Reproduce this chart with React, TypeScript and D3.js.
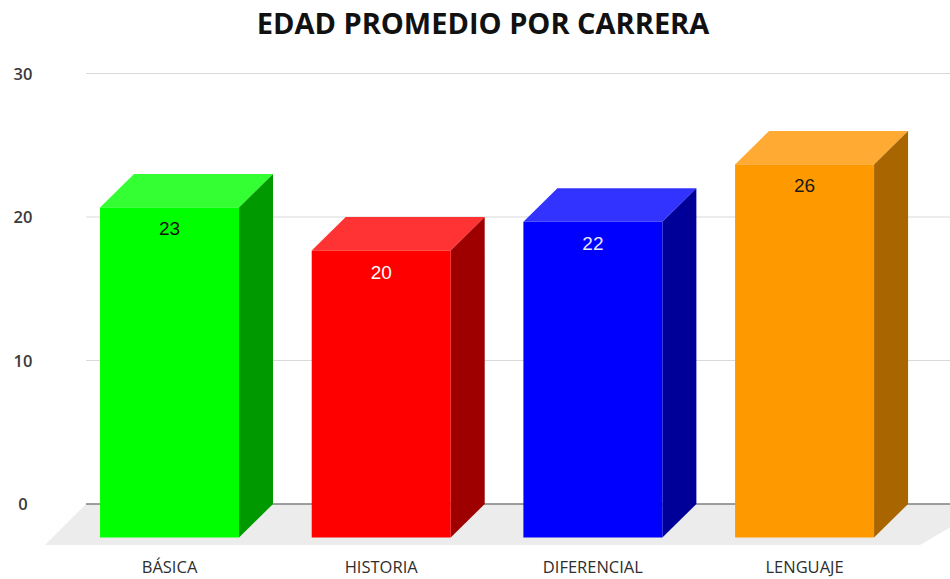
import React from "react";
import * as d3 from "d3";

const categories = ["BÁSICA", "HISTORIA", "DIFERENCIAL", "LENGUAJE"];
const values = [23, 20, 22, 26];
const yTicks = [0, 10, 20, 30];

const palette = [
  { front: "#00ff00", top: "#33ff33", side: "#009a00", label: "#111111" },
  { front: "#ff0000", top: "#ff3333", side: "#9e0000", label: "#ffffff" },
  { front: "#0000ff", top: "#3333ff", side: "#000099", label: "#e8e8ff" },
  { front: "#ff9900", top: "#ffab33", side: "#a86500", label: "#1a1a1a" },
];

const W = 950;
const H = 579;
const DX = 34;
const DY = 33.5;

export default function App() {
  const y = d3.scaleLinear().domain([0, 30]).range([504, 73.5]);
  const x = d3
    .scaleBand<string>()
    .domain(categories)
    .range([57.7, 916.4])
    .paddingInner(0.3434)
    .paddingOuter(0.2);
  const bw = x.bandwidth();
  const wallLeft = 86;
  const y0 = y(0);

  const floor = [
    [wallLeft, y0],
    [W + 40, y0],
    [920, y0 + DY + 7.5],
    [wallLeft - DX - 7, y0 + DY + 7.5],
  ];

  return (
    <svg width={W} height={H} style={{ position: "absolute", left: 0, top: 0 }}>
      <rect width={W} height={H} fill="#ffffff" />
      <text
        x={483}
        y={33.5}
        textAnchor="middle"
        fontFamily="'Open Sans', sans-serif"
        fontWeight={700}
        fontSize={29}
        fill="#111"
      >
        EDAD PROMEDIO POR CARRERA
      </text>
      <polygon points={floor.map((p) => p.join(",")).join(" ")} fill="#ececec" />
      {yTicks.map((t) => (
        <g key={t}>
          <line
            x1={wallLeft}
            x2={W}
            y1={y(t)}
            y2={y(t)}
            stroke={t === 0 ? "#7f7f7f" : "#d9d9d9"}
            strokeWidth={t === 0 ? 1.5 : 1.2}
          />
          <text
            x={23}
            y={y(t) + 6}
            textAnchor="middle"
            fontFamily="'Open Sans', sans-serif"
            fontWeight={600}
            fontSize={16.5}
            fill="#3a3a3a"
          >
            {t}
          </text>
        </g>
      ))}
      {categories.map((c, i) => {
        const x0 = x(c) as number;
        const x1 = x0 + bw;
        const yb = y0 + DY;
        const yt = y(values[i]) + DY;
        const col = palette[i];
        const top = [
          [x0, yt],
          [x0 + DX, yt - DY],
          [x1 + DX, yt - DY],
          [x1, yt],
        ];
        const side = [
          [x1, yt],
          [x1 + DX, yt - DY],
          [x1 + DX, yb - DY],
          [x1, yb],
        ];
        return (
          <g key={c}>
            <polygon points={top.map((p) => p.join(",")).join(" ")} fill={col.top} />
            <polygon points={side.map((p) => p.join(",")).join(" ")} fill={col.side} />
            <rect x={x0} y={yt} width={bw} height={yb - yt} fill={col.front} />
            <text
              x={x0 + bw / 2}
              y={yt + 28}
              textAnchor="middle"
              fontFamily="'Liberation Sans', Arial, sans-serif"
              fontSize={19}
              fill={col.label}
            >
              {values[i]}
            </text>
            <text
              x={x0 + bw / 2}
              y={573}
              textAnchor="middle"
              fontFamily="'Open Sans', sans-serif"
              fontWeight={500}
              fontSize={16.5}
              fill="#2e2e2e"
            >
              {c}
            </text>
          </g>
        );
      })}
    </svg>
  );
}
